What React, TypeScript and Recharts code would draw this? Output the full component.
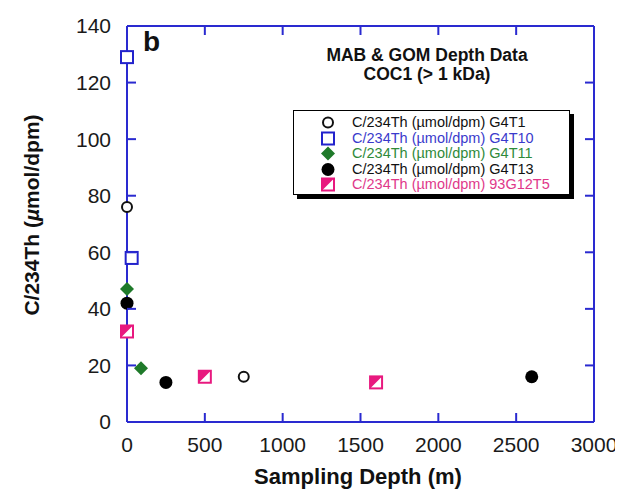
import { ScatterChart, Scatter, XAxis, YAxis } from 'recharts';

// depth (m) vs C/234Th ratio (µmol/dpm)
const g4t1 = [
    { depth: 0, ratio: 76 },
    { depth: 750, ratio: 16 },
];
const g4t10 = [
    { depth: 0, ratio: 129 },
    { depth: 30, ratio: 58 },
];
const g4t11 = [
    { depth: 0, ratio: 47 },
    { depth: 90, ratio: 19 },
];
const g4t13 = [
    { depth: 0, ratio: 42 },
    { depth: 250, ratio: 14 },
    { depth: 2600, ratio: 16 },
];
const t93g12t5 = [
    { depth: 0, ratio: 32 },
    { depth: 500, ratio: 16 },
    { depth: 1600, ratio: 14 },
];

const xTicks = [0, 500, 1000, 1500, 2000, 2500, 3000];
const yTicks = [0, 20, 40, 60, 80, 100, 120, 140];

const AXIS = '#2a2ad0';
const FONT = '"Liberation Sans", Arial, Helvetica, sans-serif';
const TICK_LEN = 9;

type Kind = 'openCircle' | 'openSquare' | 'diamond' | 'dot' | 'halfSquare';

function Marker({ kind, cx, cy, color }: { kind: Kind; cx: number; cy: number; color: string }) {
    if (kind === 'openCircle') {
        return <circle cx={cx} cy={cy} r={5} fill="#fff" stroke={color} strokeWidth={2} />;
    }
    if (kind === 'openSquare') {
        return <rect x={cx - 6} y={cy - 6} width={12} height={12} fill="#fff" stroke={color} strokeWidth={2} />;
    }
    if (kind === 'diamond') {
        return <path d={`M${cx},${cy - 7} L${cx + 7},${cy} L${cx},${cy + 7} L${cx - 7},${cy} Z`} fill={color} />;
    }
    if (kind === 'dot') {
        return <circle cx={cx} cy={cy} r={6.5} fill={color} />;
    }
    return (
        <g>
            <rect x={cx - 6} y={cy - 6} width={12} height={12} fill="#fff" stroke={color} strokeWidth={2} />
            <path d={`M${cx - 6},${cy - 6} L${cx + 6},${cy - 6} L${cx - 6},${cy + 6} Z`} fill={color} />
        </g>
    );
}

const series = [
    { name: 'C/234Th (\u00b5mol/dpm) G4T1', data: g4t1, kind: 'openCircle' as Kind, color: '#111', text: '#111' },
    { name: 'C/234Th (\u00b5mol/dpm) G4T10', data: g4t10, kind: 'openSquare' as Kind, color: '#2222cc', text: '#3a3acc' },
    { name: 'C/234Th (\u00b5mol/dpm) G4T11', data: g4t11, kind: 'diamond' as Kind, color: '#1f7a2a', text: '#2f8a3a' },
    { name: 'C/234Th (\u00b5mol/dpm) G4T13', data: g4t13, kind: 'dot' as Kind, color: '#000', text: '#111' },
    { name: 'C/234Th (\u00b5mol/dpm) 93G12T5', data: t93g12t5, kind: 'halfSquare' as Kind, color: '#e8197f', text: '#e0388a' },
];

const BOTTOM_GAP = 15;
const LEFT_GAP = 16;

// inward tick marks drawn together with the label
const BottomTick = ({ x, y, payload }: any) => (
    <g>
        <path d={`M${x},${y - BOTTOM_GAP} V${y - BOTTOM_GAP - TICK_LEN}`} stroke={AXIS} strokeWidth={2} />
        <text x={x} y={y} dy="0.71em" textAnchor="middle" fill="#1a1a1a" fontSize={21} fontFamily={FONT}>
            {payload.value}
        </text>
    </g>
);
const LeftTick = ({ x, y, payload }: any) => (
    <g>
        <path d={`M${Number(x) + LEFT_GAP},${y} H${Number(x) + LEFT_GAP + TICK_LEN}`} stroke={AXIS} strokeWidth={2} />
        <text x={x} y={y} dy="0.355em" textAnchor="end" fill="#1a1a1a" fontSize={21} fontFamily={FONT}>
            {payload.value}
        </text>
    </g>
);
const TopTick = ({ x, y }: any) => <path d={`M${x},${y} V${Number(y) + TICK_LEN}`} stroke={AXIS} strokeWidth={2} />;
const RightTick = ({ x, y }: any) => <path d={`M${x},${y} H${Number(x) - TICK_LEN}`} stroke={AXIS} strokeWidth={2} />;

export default function App() {
    return (
        <div style={{ position: 'relative', width: 615, height: 483, background: '#fff', fontFamily: FONT }}>
            <ScatterChart width={615} height={483} margin={{ top: 14, right: 25, bottom: 0, left: 59 }}>
                <XAxis
                    type="number"
                    dataKey="depth"
                    domain={[0, 3000]}
                    ticks={xTicks}
                    height={69}
                    tickSize={0}
                    tickLine={false}
                    tickMargin={BOTTOM_GAP}
                    stroke={AXIS}
                    strokeWidth={2}
                    tick={<BottomTick />}
                />
                <XAxis
                    xAxisId="top"
                    orientation="top"
                    type="number"
                    dataKey="depth"
                    domain={[0, 3000]}
                    ticks={xTicks}
                    height={4}
                    tickSize={0}
                    tickMargin={0}
                    tickLine={false}
                    stroke={AXIS}
                    strokeWidth={2}
                    tick={<TopTick />}
                />
                <YAxis
                    type="number"
                    dataKey="ratio"
                    domain={[0, 140]}
                    ticks={yTicks}
                    width={60}
                    tickSize={0}
                    tickLine={false}
                    tickMargin={LEFT_GAP}
                    stroke={AXIS}
                    strokeWidth={2}
                    tick={<LeftTick />}
                />
                <YAxis
                    yAxisId="right"
                    orientation="right"
                    type="number"
                    dataKey="ratio"
                    domain={[0, 140]}
                    ticks={yTicks}
                    width={4}
                    tickSize={0}
                    tickMargin={0}
                    tickLine={false}
                    stroke={AXIS}
                    strokeWidth={2}
                    tick={<RightTick />}
                />
                {/* invisible series so the mirrored top/right axes get drawn */}
                <Scatter
                    data={g4t1}
                    xAxisId="top"
                    yAxisId="right"
                    isAnimationActive={false}
                    legendType="none"
                    shape={() => <g />}
                />
                {series.map((s) => (
                    <Scatter
                        key={s.name}
                        name={s.name}
                        data={s.data}
                        isAnimationActive={false}
                        shape={(p: any) => <Marker kind={s.kind} cx={p.cx} cy={p.cy} color={s.color} />}
                    />
                ))}
            </ScatterChart>

            <div style={{ position: 'absolute', left: 135, top: 18, fontSize: 28, fontWeight: 'bold', color: '#111' }}>b</div>

            <div
                style={{
                    position: 'absolute',
                    left: 419,
                    top: 38,
                    transform: 'translateX(-50%)',
                    fontSize: 17.5,
                    fontWeight: 'bold',
                    lineHeight: '19px',
                    textAlign: 'center',
                    whiteSpace: 'nowrap',
                    color: '#111',
                }}
            >
                MAB &amp; GOM Depth Data
                <br />
                COC1 (&gt; 1 kDa)
            </div>

            <div
                style={{
                    position: 'absolute',
                    left: 285,
                    top: 102,
                    width: 277,
                    height: 85,
                    border: '1.5px solid #000',
                    boxShadow: '4px 4px 0 #000',
                    background: '#fff',
                    padding: '4px 0 0 0',
                    boxSizing: 'border-box',
                }}
            >
                {series.map((s) => (
                    <div key={s.name} style={{ display: 'flex', alignItems: 'center', height: 15.5 }}>
                        <svg width={58} height={15} style={{ flex: 'none' }}>
                            <Marker kind={s.kind} cx={34} cy={7.5} color={s.color} />
                        </svg>
                        <span style={{ fontSize: 14.5, lineHeight: '15px', color: s.text, whiteSpace: 'nowrap' }}>{s.name}</span>
                    </div>
                ))}
            </div>

            <div
                style={{
                    position: 'absolute',
                    left: 24,
                    top: 207,
                    transform: 'translate(-50%, -50%) rotate(-90deg)',
                    fontSize: 21,
                    fontWeight: 'bold',
                    whiteSpace: 'nowrap',
                    color: '#111',
                }}
            >
                C/234Th (<i>µ</i>mol/dpm)
            </div>

            <div
                style={{
                    position: 'absolute',
                    left: 350,
                    top: 456,
                    transform: 'translateX(-50%)',
                    fontSize: 22,
                    fontWeight: 'bold',
                    whiteSpace: 'nowrap',
                    color: '#111',
                }}
            >
                Sampling Depth (m)
            </div>
        </div>
    );
}
